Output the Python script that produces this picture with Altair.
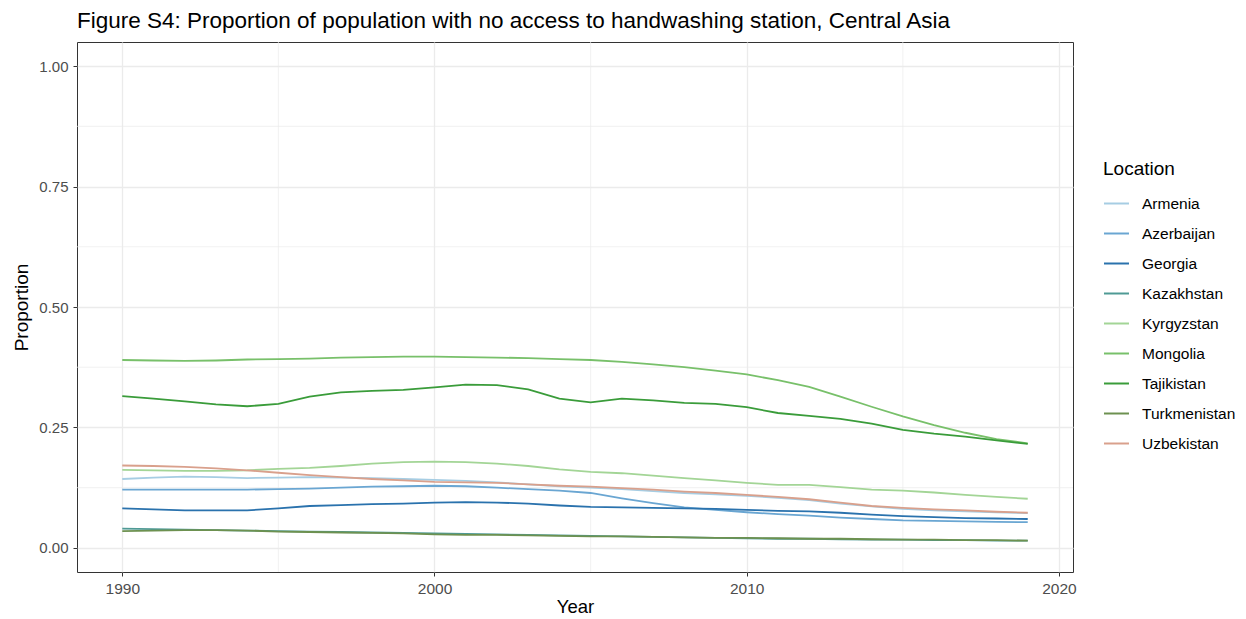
import altair as alt
import pandas as pd

years = list(range(1990, 2020))

locations = ["Armenia", "Azerbaijan", "Georgia", "Kazakhstan", "Kyrgyzstan",
             "Mongolia", "Tajikistan", "Turkmenistan", "Uzbekistan"]
colors = ["#a6cde3", "#6aa6d2", "#2a72ad", "#4f9a95", "#a3d596",
          "#78c06a", "#3a9c3a", "#6d9150", "#d9a08c"]

armenia = [.143, .146, .148, .147, .145, .146, .147, .146, .145, .143, .141, .139, .136, .132, .128,
           .125, .122, .118, .114, .111, .108, .104, .099, .092, .086, .081, .078, .076, .074, .072]
azerbaijan = [.121, .121, .121, .121, .121, .122, .123, .125, .127, .128, .129, .128, .125, .122, .119,
              .114, .103, .093, .084, .079, .074, .070, .067, .063, .060, .057, .056, .055, .054, .0535]
georgia = [.082, .080, .078, .078, .078, .082, .087, .089, .091, .092, .094, .095, .094, .092, .088,
           .085, .084, .083, .082, .081, .079, .077, .076, .073, .069, .066, .064, .062, .061, .060]
kazakhstan = [.040, .039, .038, .037, .036, .035, .034, .033, .032, .031, .030, .029, .028, .027, .026,
              .025, .024, .023, .022, .021, .020, .019, .019, .018, .017, .017, .016, .016, .015, .015]
kyrgyzstan = [.162, .161, .160, .160, .161, .164, .166, .170, .175, .178, .179, .178, .175, .170, .163,
              .158, .155, .150, .145, .140, .135, .131, .131, .126, .121, .119, .115, .110, .106, .102]
mongolia = [.390, .389, .388, .389, .391, .392, .393, .395, .396, .397, .397, .396, .395, .394, .392,
            .390, .386, .381, .375, .368, .360, .348, .334, .314, .293, .273, .255, .239, .226, .217]
tajikistan = [.315, .310, .304, .298, .294, .299, .314, .323, .326, .328, .333, .339, .338, .329, .310,
              .302, .310, .306, .301, .299, .292, .280, .274, .268, .258, .245, .237, .231, .223, .216]
turkmenistan = [.035, .036, .037, .037, .036, .034, .033, .032, .031, .030, .028, .027, .027, .026, .025,
                .024, .024, .023, .022, .021, .021, .020, .019, .019, .018, .017, .017, .016, .016, .015]
uzbekistan = [.171, .170, .168, .165, .161, .156, .151, .147, .143, .140, .137, .136, .135, .132, .129,
              .127, .124, .121, .117, .114, .110, .106, .101, .094, .087, .083, .080, .078, .075, .073]

series = [armenia, azerbaijan, georgia, kazakhstan, kyrgyzstan,
          mongolia, tajikistan, turkmenistan, uzbekistan]

x_major = [1990, 2000, 2010, 2020]
x_minor = [1995, 2005, 2015]
y_major = [0.0, 0.25, 0.5, 0.75, 1.0]
y_minor = [0.125, 0.375, 0.625, 0.875]

rows = []
for loc, vals in zip(locations, series):
    for yr, v in zip(years, vals):
        rows.append({"Year": yr, "Proportion": v, "Location": loc})
df = pd.DataFrame(rows)

FONT = "Liberation Sans"
xscale = alt.Scale(domain=[1988.55, 2020.45], nice=False, zero=False)
yscale = alt.Scale(domain=[-0.05, 1.05], nice=False, zero=False)
xaxis = alt.Axis(values=x_major, format="d", title="Year", grid=True,
                 labelPadding=5, titlePadding=1, titleFontSize=18.5)
yaxis = alt.Axis(values=y_major, format=".2f", title="Proportion", grid=True,
                 labelPadding=5, labelFontSize=15, titlePadding=7)

minor_x = alt.Chart(pd.DataFrame({"v": x_minor})).mark_rule(
    color="#ebebeb", strokeWidth=0.7
).encode(x=alt.X("v:Q", scale=xscale, axis=xaxis))

minor_y = alt.Chart(pd.DataFrame({"v": y_minor})).mark_rule(
    color="#ebebeb", strokeWidth=0.7
).encode(y=alt.Y("v:Q", scale=yscale, axis=yaxis))

lines = alt.Chart(df).mark_line(strokeWidth=1.8).encode(
    x=alt.X("Year:Q", scale=xscale, axis=xaxis),
    y=alt.Y("Proportion:Q", scale=yscale, axis=yaxis),
    color=alt.Color("Location:N",
                    scale=alt.Scale(domain=locations, range=colors),
                    legend=alt.Legend(title="Location", orient="none",
                                      legendX=1026, legendY=118,
                                      symbolType="stroke", symbolSize=625,
                                      symbolStrokeWidth=2, labelOffset=12,
                                      rowPadding=8, titlePadding=11)),
    detail="Location:N",
)

chart = alt.layer(minor_x, minor_y, lines).properties(
    width=996,
    height=530,
    autosize=alt.AutoSizeParams(type="none"),
    padding={"left": 69, "top": 34, "right": 165, "bottom": 45},
    title=alt.TitleParams(
        "Figure S4: Proportion of population with no access to handwashing station, Central Asia",
        anchor="start", frame="group", offset=9, fontSize=22.5, font=FONT,
        fontWeight="normal", color="#000000"),
).configure_view(
    stroke="#333333", strokeWidth=1
).configure_axis(
    domain=False, gridColor="#ebebeb", gridWidth=1.3,
    tickColor="#333333", tickSize=4, tickWidth=1,
    labelFont=FONT, labelFontSize=15.5, labelColor="#4d4d4d",
    titleFont=FONT, titleFontSize=19, titleFontWeight="normal", titleColor="#000000",
).configure_legend(
    labelFont=FONT, labelFontSize=15.5, labelColor="#000000",
    titleFont=FONT, titleFontSize=19, titleFontWeight="normal", titleColor="#000000",
)

chart.save("out.html", embed_options={"renderer": "svg", "actions": False})
